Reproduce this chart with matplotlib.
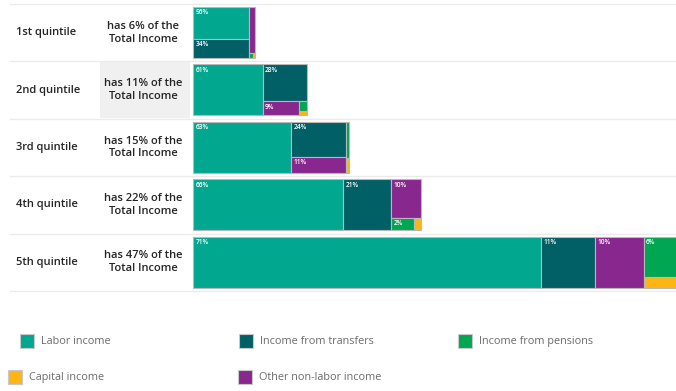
import matplotlib
matplotlib.use('Agg')
from matplotlib import pyplot as plt
from matplotlib.patches import Rectangle

plt.rcParams['font.family'] = ['Open Sans', 'DejaVu Sans']

quintiles = ['1st quintile', '2nd quintile', '3rd quintile', '4th quintile', '5th quintile']
income_share = [6, 11, 15, 22, 47]

sources = ['Labor income', 'Income from transfers', 'Income from pensions',
           'Capital income', 'Other non-labor income']
colors = ['#01A78F', '#015F66', '#00A651', '#FDB515', '#88288E']

# composition of each quintile's income, in percent
labor = [56, 61, 63, 66, 71]
transfers = [34, 28, 24, 21, 11]
pensions = [0.7, 1.4, 1.4, 2.4, 6]
capital = [0.3, 0.6, 0.6, 0.8, 1.6]
other = [9, 9, 11, 10, 10]

PHI = (1 + 5 ** 0.5) / 2


def squarify(values, x0, y0, x1, y1, ratio=PHI):
    # squarified treemap, same rules as d3.treemapSquarify
    rects = []
    total = float(sum(values))
    n = len(values)
    i0 = 0
    while i0 < n:
        dx, dy = x1 - x0, y1 - y0
        i1 = i0 + 1
        s = values[i0]
        vmin = vmax = s
        alpha = max(dy / dx, dx / dy) / (total * ratio)
        beta = s * s * alpha
        best = max(vmax / beta, beta / vmin)
        while i1 < n:
            v = values[i1]
            beta = (s + v) ** 2 * alpha
            r = max(max(vmax, v) / beta, beta / min(vmin, v))
            if r > best:
                break
            s += v
            vmin, vmax = min(vmin, v), max(vmax, v)
            best = r
            i1 += 1
        row = list(range(i0, i1))
        if dx < dy:
            h = dy * s / total
            xx = x0
            for k in row:
                w = dx * values[k] / s
                rects.append((xx, y0, w, h))
                xx += w
            y0 += h
        else:
            w = dx * s / total
            yy = y0
            for k in row:
                h = dy * values[k] / s
                rects.append((x0, yy, w, h))
                yy += h
            x0 += w
        total -= s
        i0 = i1
    return rects


W, H = 676, 391
fig = plt.figure(figsize=(W / 100, H / 100), dpi=100, facecolor='white')
ax = fig.add_axes([0, 0, 1, 1])
ax.set_xlim(0, W)
ax.set_ylim(H, 0)
ax.axis('off')

row_top, row_h = 4, 57.4
bar_x0, px_per_pct = 193, 10.38
bar_pad, bar_h = 3, 51

# row separators
for i in range(len(quintiles) + 1):
    y = row_top + i * row_h
    ax.plot([10, W], [y, y], color='#ebebeb', lw=1, zorder=1)

# hovered label cell
ax.add_patch(Rectangle((100, row_top + row_h + 0.5), 90, row_h - 1,
                       facecolor='#f0f0f0', edgecolor='none', zorder=0))

for i, q in enumerate(quintiles):
    yc = row_top + (i + 0.5) * row_h
    ax.text(16, yc, q, ha='left', va='center', fontsize=8, fontweight='semibold',
            color='#252423')
    ax.text(143, yc, 'has %d%% of the\nTotal Income' % income_share[i], ha='center',
            va='center', fontsize=8, fontweight='semibold', color='#252423',
            linespacing=1.25)

    vals = [labor[i], transfers[i], pensions[i], capital[i], other[i]]
    order = sorted(range(len(vals)), key=lambda k: -vals[k])
    x0 = bar_x0
    x1 = bar_x0 + income_share[i] * px_per_pct
    y0 = row_top + i * row_h + bar_pad
    y1 = y0 + bar_h
    rects = squarify([vals[k] for k in order], x0, y0, x1, y1)
    for k, (rx, ry, rw, rh) in zip(order, rects):
        ax.add_patch(Rectangle((rx, ry), rw, rh, facecolor=colors[k],
                               edgecolor='#b8b8b8', lw=0.8, zorder=2))
        if rw >= 14 and rh >= 12:
            ax.text(rx + 2.5, ry + 2.5, '%d%%' % round(vals[k]), ha='left', va='top',
                    fontsize=4.8, fontweight='semibold', color='white', zorder=3)

# legend
legend_pos = [(20, 341), (239, 341), (458, 341), (8, 377), (238, 377)]
for name, c, (lx, ly) in zip(sources, colors, legend_pos):
    ax.add_patch(Rectangle((lx, ly - 7), 14, 14, facecolor=c, edgecolor='#c8c8c8',
                           lw=0.8, zorder=2))
    ax.text(lx + 21, ly + 0.5, name, ha='left', va='center', fontsize=7.8,
            color='#6b6b6b')

fig.savefig('out.png', dpi=100, facecolor='white')
